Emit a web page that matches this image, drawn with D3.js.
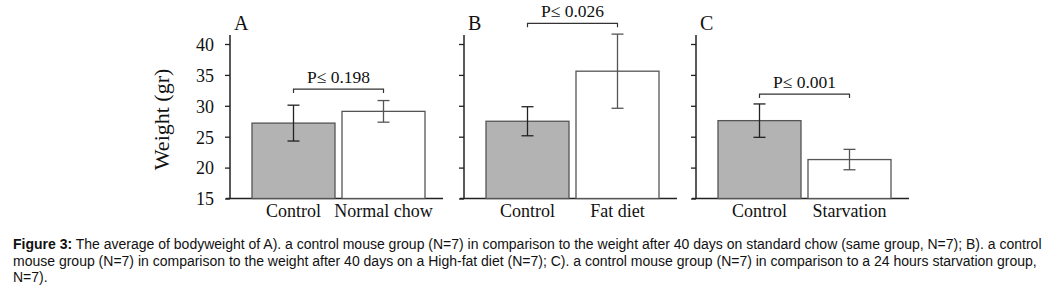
<!DOCTYPE html>
<html lang="en">
<head>
<meta charset="UTF-8">
<title>Figure 3 - bodyweight</title>
<script src="https://d3js.org/d3.v7.min.js"></script>
<style>
  body { margin: 0; background: #fff; }
  svg { display: block; }
  .tick text { font-family: "Liberation Serif", "Times New Roman", serif; font-size: 18px; fill: #111; }
  .cat { font-family: "Liberation Serif", "Times New Roman", serif; font-size: 18px; fill: #111; }
  .panel-label { font-family: "Liberation Serif", "Times New Roman", serif; font-size: 20px; fill: #111; }
  .pval { font-family: "Liberation Serif", "Times New Roman", serif; font-size: 17.5px; fill: #111; }
  .ytitle { font-family: "Liberation Serif", "Times New Roman", serif; font-size: 22px; fill: #111; }
  .caption { font-family: "Liberation Sans", Arial, sans-serif; font-size: 14px; fill: #111; }
</style>
</head>
<body>
<script>
// data
const panelLabels = ["A", "B", "C"];
const categories = [
  ["Control", "Normal chow"],
  ["Control", "Fat diet"],
  ["Control", "Starvation"]
];
const means = [
  [27.2, 29.1],
  [27.5, 35.6],
  [27.6, 21.3]
];
const errors = [
  [2.9, 1.75],
  [2.35, 6.0],
  [2.7, 1.65]
];
const pLabels = ["P\u2264 0.198", "P\u2264 0.026", "P\u2264 0.001"];
const bracketLevels = [32.7, 43.35, 31.9]; // bracket height in data units
const yTicks = [15, 20, 25, 30, 35, 40];
const captionLines = [
  ["Figure 3:", " The average of bodyweight of A). a control mouse group (N=7) in comparison to the weight after 40 days on standard chow (same group, N=7); B). a control"],
  ["", "mouse group (N=7) in comparison to the weight after 40 days on a High-fat diet (N=7); C). a control mouse group (N=7) in comparison to a 24 hours starvation group,"],
  ["", "N=7)."]
];

const W = 1057, H = 286;
const svg = d3.select("body").append("svg").attr("width", W).attr("height", H);

const y = d3.scaleLinear().domain([15, 40]).range([198.5, 44]);
const axisX = [230, 464, 696];
const fills = ["#b3b3b3", "#ffffff"];
const errColors = ["#222", "#555"];

panelLabels.forEach((lab, i) => {
  const x0 = axisX[i];
  const g = svg.append("g");

  const x = d3.scaleBand()
    .domain(categories[i])
    .range([x0 + 22, x0 + 195])
    .paddingInner(7 / 90)
    .paddingOuter(0);

  // y axis
  const yAxis = d3.axisLeft(y).tickValues(yTicks).tickSize(5).tickSizeOuter(0);
  if (i > 0) yAxis.tickFormat("");
  const ya = g.append("g").attr("transform", `translate(${x0},0)`).call(yAxis);
  ya.select(".domain").attr("stroke", "#222").attr("stroke-width", 1.5)
    .attr("d", `M0,${y(15)}V35`);
  ya.selectAll(".tick line").attr("stroke", "#222").attr("stroke-width", 1.3);
  ya.selectAll(".tick text").attr("x", -16).attr("dy", "0.35em");

  // x axis line
  g.append("line")
    .attr("x1", x0 - 4).attr("x2", x0 + 213)
    .attr("y1", y(15)).attr("y2", y(15))
    .attr("stroke", "#222").attr("stroke-width", 1.5);

  // bars
  g.selectAll("rect.bar").data(categories[i]).join("rect")
    .attr("class", "bar")
    .attr("x", d => x(d))
    .attr("y", (d, j) => y(means[i][j]))
    .attr("width", x.bandwidth())
    .attr("height", (d, j) => y(15) - y(means[i][j]))
    .attr("fill", (d, j) => fills[j])
    .attr("stroke", "#555")
    .attr("stroke-width", 1.3);

  // error bars
  categories[i].forEach((c, j) => {
    const cx = x(c) + x.bandwidth() / 2;
    const hi = y(means[i][j] + errors[i][j]);
    const lo = y(means[i][j] - errors[i][j]);
    const eg = g.append("g").attr("stroke", errColors[j]).attr("stroke-width", 1.3);
    eg.append("line").attr("x1", cx).attr("x2", cx).attr("y1", hi).attr("y2", lo);
    eg.append("line").attr("x1", cx - 6).attr("x2", cx + 6).attr("y1", hi).attr("y2", hi);
    eg.append("line").attr("x1", cx - 6).attr("x2", cx + 6).attr("y1", lo).attr("y2", lo);
  });

  // category labels
  g.selectAll("text.cat").data(categories[i]).join("text")
    .attr("class", "cat")
    .attr("x", d => x(d) + x.bandwidth() / 2)
    .attr("y", 217)
    .attr("text-anchor", "middle")
    .text(d => d);

  // significance bracket
  const bx1 = x(categories[i][0]) + x.bandwidth() / 2;
  const bx2 = x(categories[i][1]) + x.bandwidth() / 2;
  const by = y(bracketLevels[i]);
  g.append("path")
    .attr("d", `M${bx1},${by + 4}V${by}H${bx2}V${by + 4}`)
    .attr("fill", "none").attr("stroke", "#333").attr("stroke-width", 1.2);
  g.append("text")
    .attr("class", "pval")
    .attr("x", (bx1 + bx2) / 2)
    .attr("y", by - 6)
    .attr("text-anchor", "middle")
    .text(pLabels[i]);

  // panel letter
  g.append("text")
    .attr("class", "panel-label")
    .attr("x", x0 + 4)
    .attr("y", 30)
    .text(lab);
});

// y title
svg.append("text")
  .attr("class", "ytitle")
  .attr("transform", `translate(169,${y(27.8)}) rotate(-90)`)
  .attr("text-anchor", "middle")
  .text("Weight (gr)");

// caption
const cap = svg.append("text").attr("class", "caption");
captionLines.forEach((ln, k) => {
  const t = cap.append("tspan").attr("x", 13).attr("y", 249 + k * 16.5);
  if (ln[0]) t.append("tspan").attr("font-weight", "bold").text(ln[0]);
  t.append("tspan").text(ln[1]);
});
</script>
</body>
</html>
